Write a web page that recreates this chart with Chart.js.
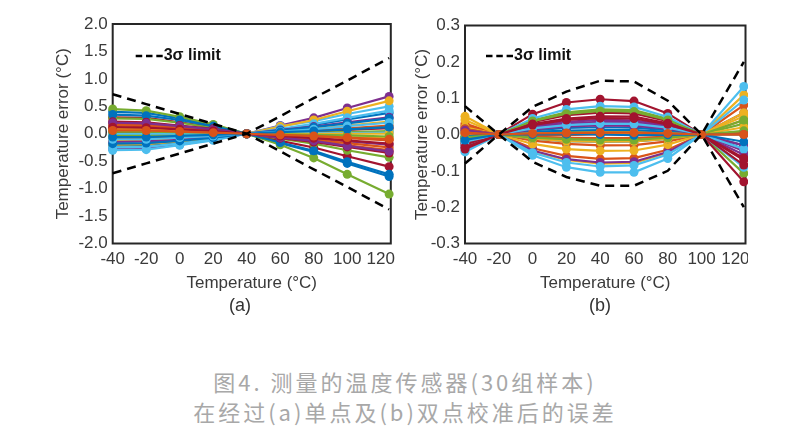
<!DOCTYPE html>
<html><head><meta charset="utf-8">
<script src="https://cdn.jsdelivr.net/npm/chart.js@4.4.1/dist/chart.umd.min.js"></script>
<style>
html,body{margin:0;padding:0;background:#fff;}
#root{position:relative;width:810px;height:431px;overflow:hidden;background:#fff;}
.wrap{position:absolute;overflow:hidden;}
.inner{position:absolute;left:0;top:0;}
.lbl{position:absolute;font-family:'Liberation Sans',Arial,sans-serif;font-size:18px;color:#333;transform:translate(-50%,-50%);white-space:nowrap;}
#cap{position:absolute;left:0;top:366px;width:810px;text-align:center;font-family:'Noto Sans CJK SC',sans-serif;font-size:22px;line-height:30px;letter-spacing:3px;color:#a8a8a8;}
</style></head>
<body>
<div id="root">
  <div class="wrap" style="left:40px;top:0;width:365px;height:300px;"><div class="inner" style="width:365px;height:300px;"><canvas id="chartA"></canvas></div></div>
  <div class="wrap" style="left:400px;top:0;width:348px;height:300px;"><div class="inner" style="width:380px;height:300px;"><canvas id="chartB"></canvas></div></div>
  <div class="lbl" style="left:240px;top:305px;">(a)</div>
  <div class="lbl" style="left:600px;top:305px;">(b)</div>
  <div id="cap">图4. 测量的温度传感器(30组样本)<br>在经过(a)单点及(b)双点校准后的误差</div>
</div>
<script>
// ---- data ----
const temperatures = [-40, -20, 0, 20, 40, 60, 80, 100, 125];
const xTickValues = [-40, -20, 0, 20, 40, 60, 80, 100, 120];
const yTickValuesA = [-2, -1.5, -1, -0.5, 0, 0.5, 1, 1.5, 2];
const yTickValuesB = [-0.3, -0.2, -0.1, 0, 0.1, 0.2, 0.3];
const legendLabel = '3σ limit';
const xTitle = 'Temperature (°C)';
const yTitle = 'Temperature error (°C)';

// (a) one-point calibration at 40 °C
const limitUpperA = [0.72, 0.54, 0.36, 0.18, 0, 0.32, 0.65, 0.97, 1.38];
const limitLowerA = [-0.72, -0.54, -0.36, -0.18, 0, -0.32, -0.65, -0.97, -1.38];
const errorsA = [
  [0.40, 0.38, 0.28, 0.16, 0, -0.17, -0.33, -0.54, -0.78],
  [0.18, 0.17, 0.13, 0.07, 0, -0.07, -0.13, -0.21, -0.30],
  [-0.12, -0.11, -0.08, -0.05, 0, 0.05, 0.09, 0.15, 0.22],
  [-0.28, -0.27, -0.20, -0.11, 0, 0.15, 0.29, 0.47, 0.68],
  [0.45, 0.42, 0.31, 0.17, 0, -0.20, -0.44, -0.74, -1.10],
  [-0.30, -0.29, -0.21, -0.12, 0, 0.14, 0.23, 0.36, 0.50],
  [0.30, 0.29, 0.21, 0.12, 0, -0.13, -0.25, -0.41, -0.60],
  [-0.22, -0.21, -0.15, -0.09, 0, 0.08, 0.16, 0.26, 0.38],
  [0.10, 0.09, 0.07, 0.04, 0, -0.03, -0.05, -0.08, -0.12],
  [-0.20, -0.19, -0.14, -0.08, 0, 0.13, 0.25, 0.41, 0.60],
  [0.05, 0.05, 0.03, 0.02, 0, -0.04, -0.08, -0.14, -0.20],
  [0.28, 0.27, 0.20, 0.11, 0, -0.09, -0.18, -0.30, -0.43],
  [-0.25, -0.24, -0.18, -0.10, 0, 0.09, 0.18, 0.29, 0.42],
  [0.02, 0.02, 0.01, 0.01, 0, 0.02, 0.04, 0.07, 0.10],
  [0.35, 0.33, 0.25, 0.14, 0, -0.16, -0.31, -0.51, -0.74],
  [-0.08, -0.08, -0.06, -0.03, 0, 0.03, 0.06, 0.10, 0.15],
  [-0.05, -0.05, -0.04, -0.02, 0, -0.02, -0.03, -0.06, -0.08],
  [-0.15, -0.14, -0.11, -0.06, 0, 0.07, 0.13, 0.21, 0.30],
  [-0.02, -0.02, -0.01, -0.01, 0, 0.01, 0.02, 0.03, 0.05],
  [0.00, 0.00, 0.00, 0.00, 0, 0.00, 0.01, 0.01, 0.02],
  [0.22, 0.21, 0.15, 0.09, 0, -0.08, -0.15, -0.24, -0.35],
  [-0.18, -0.17, -0.13, -0.07, 0, 0.06, 0.12, 0.19, 0.28],
  [0.15, 0.14, 0.11, 0.06, 0, -0.06, -0.11, -0.17, -0.25],
  [0.08, 0.08, 0.06, 0.03, 0, 0.00, 0.00, 0.00, 0.00],
  [0.20, 0.19, 0.14, 0.08, 0, -0.07, -0.13, -0.22, -0.32],
  [0.04, 0.04, 0.03, 0.02, 0, -0.01, -0.02, -0.03, -0.05],
  [-0.10, -0.10, -0.07, -0.04, 0, 0.04, 0.08, 0.14, 0.20],
  [0.12, 0.11, 0.08, 0.05, 0, -0.04, -0.08, -0.12, -0.18],
  [-0.06, -0.06, -0.04, -0.02, 0, 0.03, 0.05, 0.08, 0.12],
  [0.06, 0.06, 0.04, 0.02, 0, -0.02, -0.04, -0.07, -0.10]
];

// (b) two-point calibration at -20 °C and 100 °C
const limitUpperB = [0.078, 0, 0.076, 0.118, 0.148, 0.146, 0.093, 0, 0.20];
const limitLowerB = [-0.080, 0, -0.075, -0.117, -0.141, -0.141, -0.100, 0, -0.20];
const errorsB = [
  [-0.010, 0, 0.011, 0.018, 0.020, 0.019, 0.012, 0, -0.030],
  [0.030, 0, -0.038, -0.059, -0.067, -0.065, -0.042, 0, 0.081],
  [0.050, 0, -0.046, -0.070, -0.080, -0.078, -0.050, 0, 0.109],
  [0.020, 0, -0.044, -0.068, -0.077, -0.075, -0.048, 0, 0.060],
  [-0.020, 0, 0.039, 0.061, 0.069, 0.067, 0.043, 0, -0.107],
  [-0.045, 0, -0.057, -0.090, -0.104, -0.104, -0.066, 0, 0.132],
  [-0.030, 0, 0.056, 0.088, 0.097, 0.092, 0.058, 0, -0.130],
  [-0.020, 0, 0.017, 0.026, 0.030, 0.029, 0.019, 0, -0.040],
  [0.025, 0, -0.017, -0.026, -0.030, -0.029, -0.019, 0, 0.040],
  [0.040, 0, -0.026, -0.040, -0.045, -0.044, -0.028, 0, 0.060],
  [-0.010, 0, 0.023, 0.035, 0.040, 0.039, 0.025, 0, -0.056],
  [0.005, 0, 0.006, 0.009, 0.010, 0.010, 0.006, 0, 0.030],
  [-0.035, 0, 0.044, 0.069, 0.078, 0.076, 0.048, 0, -0.090],
  [-0.025, 0, 0.034, 0.053, 0.060, 0.058, 0.037, 0, -0.084],
  [0.010, 0, -0.011, -0.018, -0.020, -0.019, -0.012, 0, -0.040],
  [0.002, 0, -0.003, -0.002, 0.001, -0.001, -0.002, 0, 0.005],
  [0.020, 0, -0.011, -0.018, -0.020, -0.019, -0.012, 0, 0.020],
  [0.015, 0, 0.020, 0.031, 0.035, 0.034, 0.022, 0, -0.045],
  [-0.015, 0, 0.037, 0.057, 0.065, 0.063, 0.040, 0, 0.010],
  [-0.048, 0, -0.050, -0.077, -0.088, -0.085, -0.055, 0, 0.095],
  [-0.040, 0, 0.029, 0.044, 0.050, 0.049, 0.031, 0, -0.070],
  [-0.005, 0, 0.007, 0.011, 0.012, 0.012, 0.007, 0, 0.000],
  [0.015, 0, -0.006, -0.009, -0.010, -0.010, -0.006, 0, 0.000],
  [0.010, 0, 0.003, 0.004, 0.005, 0.005, 0.003, 0, 0.050],
  [0.012, 0, 0.014, 0.022, 0.025, 0.024, 0.016, 0, -0.030],
  [-0.008, 0, -0.009, -0.013, -0.015, -0.015, -0.009, 0, 0.040],
  [-0.020, 0, 0.017, 0.026, 0.030, 0.029, 0.019, 0, -0.040],
  [-0.035, 0, 0.026, 0.040, 0.045, 0.044, 0.028, 0, -0.065],
  [-0.015, 0, 0.000, 0.001, 0.000, -0.002, -0.001, 0, -0.020],
  [0.005, 0, 0.003, 0.004, 0.005, 0.005, 0.003, 0, 0.000]
];

// ---- style ----
const palette = ['#0072BD', '#D95319', '#EDB120', '#7E2F8E', '#77AC30', '#4DBEEE', '#A2142F'];
const FONT = "'Liberation Sans',Arial,sans-serif";
const AXIS_COLOR = '#262626';
const TEXT_COLOR = '#3a3a3a';
const FS = 17;

const toPoints = (vals) => temperatures.map((t, i) => ({x: t, y: vals[i]}));

function buildDatasets(errors, upper, lower) {
  const ds = [];
  const n = errors.length;
  [upper, lower].forEach(arr => ds.push({
    data: toPoints(arr), borderColor: '#000', borderWidth: 2.5, borderDash: [9, 6],
    pointRadius: 0, fill: false, clip: false, order: 0, tension: 0
  }));
  errors.forEach((row, i) => {
    const c = palette[i % palette.length];
    ds.push({
      data: toPoints(row), borderColor: c, backgroundColor: c, borderWidth: 2.2,
      pointRadius: 4.5, pointBorderWidth: 0, pointBackgroundColor: c,
      fill: false, clip: false, order: n - i + 1, tension: 0
    });
  });
  return ds;
}

const framePlugin = {
  id: 'frame',
  beforeDatasetsDraw(chart) {
    const {ctx, chartArea: a} = chart;
    ctx.save();
    ctx.strokeStyle = AXIS_COLOR; ctx.lineWidth = 2;
    ctx.strokeRect(a.left, a.top, a.right - a.left, a.bottom - a.top);
    ctx.restore();
  },
  afterDatasetsDraw(chart, args, opts) {
    const {ctx, chartArea: a} = chart;
    const x0 = a.left + opts.dx, y0 = a.top + opts.dy;
    ctx.save();
    ctx.strokeStyle = '#000'; ctx.lineWidth = 2.5; ctx.setLineDash([6.5, 3.8]);
    ctx.beginPath(); ctx.moveTo(x0, y0); ctx.lineTo(x0 + 27, y0); ctx.stroke();
    ctx.setLineDash([]);
    ctx.fillStyle = '#111'; ctx.font = 'bold 16px ' + FONT;
    ctx.textBaseline = 'middle'; ctx.textAlign = 'left';
    ctx.fillText(legendLabel, x0 + 28, y0);
    ctx.restore();
  }
};

function makeChart(id, errors, upper, lower, yTicks, yMin, yMax, yWidth, padTop, padRight, yTitlePad, legendPos) {
  return new Chart(document.getElementById(id), {
    type: 'line',
    data: {datasets: buildDatasets(errors, upper, lower)},
    plugins: [framePlugin],
    options: {
      responsive: true, maintainAspectRatio: false, animation: false, events: [],
      layout: {padding: {left: 0, top: padTop, right: padRight, bottom: 0}},
      plugins: {legend: {display: false}, tooltip: {enabled: false}, frame: legendPos},
      scales: {
        x: {
          type: 'linear', min: -40, max: 126,
          afterBuildTicks: s => { s.ticks = xTickValues.map(v => ({value: v})); },
          afterFit: s => { s.height = 56.5; },
          grid: {display: false, drawTicks: false},
          border: {display: false},
          ticks: {autoSkip: false, maxRotation: 0, padding: 6, color: TEXT_COLOR, font: {family: FONT, size: FS}, callback: v => String(v)},
          title: {display: true, text: xTitle, color: TEXT_COLOR, font: {family: FONT, size: FS}, padding: {top: 0, bottom: 6}}
        },
        y: {
          type: 'linear', min: yMin, max: yMax,
          afterBuildTicks: s => { s.ticks = yTicks.map(v => ({value: v})); },
          afterFit: s => { s.width = yWidth; },
          grid: {display: false, drawTicks: false},
          border: {display: false},
          ticks: {padding: 5, color: TEXT_COLOR, font: {family: FONT, size: FS}, callback: v => Number(v).toFixed(1)},
          title: {display: true, text: yTitle, color: TEXT_COLOR, font: {family: FONT, size: FS}, padding: {top: yTitlePad, bottom: 0}}
        }
      }
    }
  });
}

makeChart('chartA', errorsA, limitUpperA, limitLowerA, yTickValuesA, -2, 2, 72.7, 24, 14.2, 13, {dx: 23, dy: 32});
makeChart('chartB', errorsB, limitUpperB, limitLowerB, yTickValuesB, -0.3, 0.3, 65, 25.5, 34.5, 12, {dx: 21, dy: 30.5});
</script>
</body></html>
